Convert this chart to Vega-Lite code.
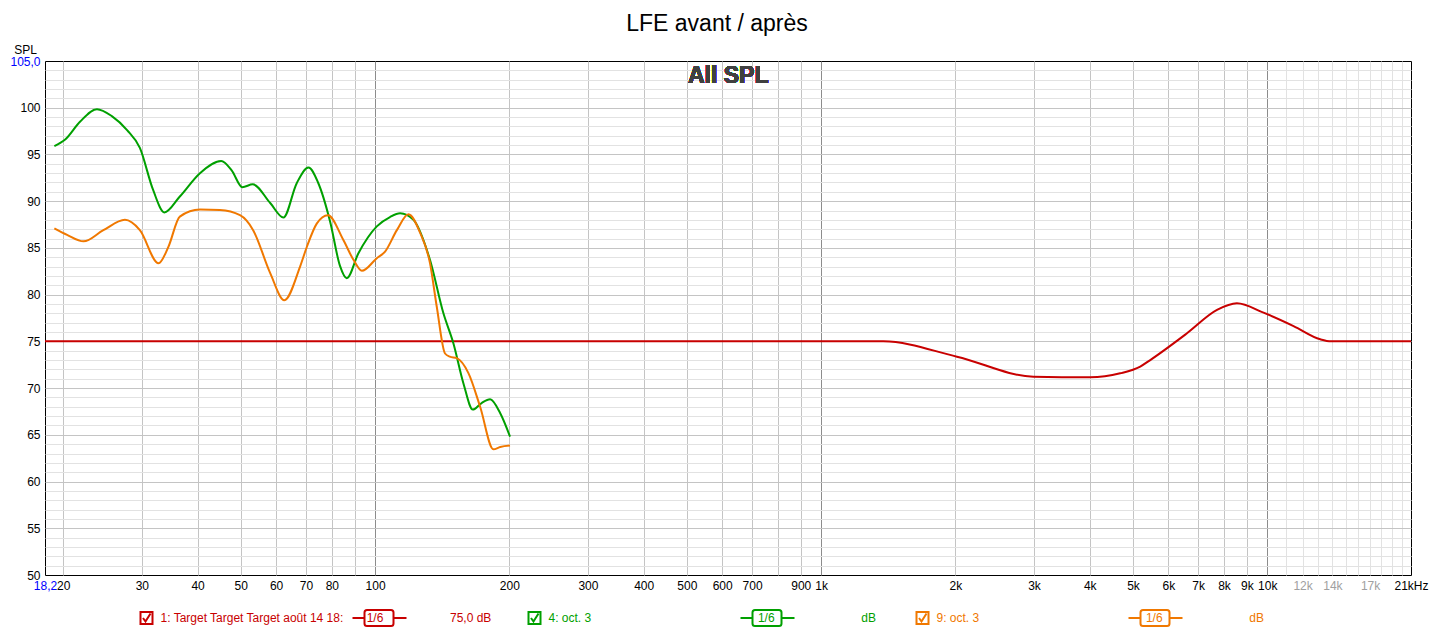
{
  "$schema": "https://vega.github.io/schema/vega-lite/v6.json",
  "width": 1366,
  "height": 514,
  "autosize": {"type": "none"},
  "padding": {"left": 45, "top": 61, "right": 22, "bottom": 57},
  "background": "#ffffff",
  "title": {"text": "LFE avant / après", "font": "Liberation Sans", "fontSize": 23, "fontWeight": "normal", "color": "#000000", "anchor": "middle", "frame": "group", "dx": -11, "offset": -16, "baseline": "bottom"},
  "config": {
    "view": {"stroke": "#000000", "strokeWidth": 1},
    "axis": {"labelFont": "Liberation Sans", "labelFontSize": 12, "labelColor": "#000000", "ticks": false, "domain": false, "labelOverlap": false, "labelFlush": false, "gridWidth": 1, "gridOpacity": 1, "tickCount": 500}
  },
  "data": {"values": [
    {"s": "1: Target Target Target août 14 18:", "f": 18.2, "db": 75},
    {"s": "1: Target Target Target août 14 18:", "f": 1378, "db": 75},
    {"s": "1: Target Target Target août 14 18:", "f": 2015, "db": 73.36},
    {"s": "1: Target Target Target août 14 18:", "f": 2992, "db": 71.22},
    {"s": "1: Target Target Target août 14 18:", "f": 4009, "db": 71.15},
    {"s": "1: Target Target Target août 14 18:", "f": 4681, "db": 71.58},
    {"s": "1: Target Target Target août 14 18:", "f": 5191, "db": 72.3},
    {"s": "1: Target Target Target août 14 18:", "f": 5466, "db": 73.0},
    {"s": "1: Target Target Target août 14 18:", "f": 6607, "db": 75.86},
    {"s": "1: Target Target Target août 14 18:", "f": 7715, "db": 78.36},
    {"s": "1: Target Target Target août 14 18:", "f": 8549, "db": 79.07},
    {"s": "1: Target Target Target août 14 18:", "f": 9810, "db": 78.07},
    {"s": "1: Target Target Target août 14 18:", "f": 11453, "db": 76.64},
    {"s": "1: Target Target Target août 14 18:", "f": 13146, "db": 75.22},
    {"s": "1: Target Target Target août 14 18:", "f": 13900, "db": 75.0},
    {"s": "1: Target Target Target août 14 18:", "f": 21000, "db": 75.0},
    {"s": "4: oct. 3", "f": 19.1, "db": 95.9},
    {"s": "4: oct. 3", "f": 20.2, "db": 96.6},
    {"s": "4: oct. 3", "f": 21.8, "db": 98.5},
    {"s": "4: oct. 3", "f": 23.8, "db": 99.85},
    {"s": "4: oct. 3", "f": 25.7, "db": 99.1},
    {"s": "4: oct. 3", "f": 27.8, "db": 97.6},
    {"s": "4: oct. 3", "f": 29.7, "db": 95.7},
    {"s": "4: oct. 3", "f": 31.8, "db": 91.2},
    {"s": "4: oct. 3", "f": 33.7, "db": 88.8},
    {"s": "4: oct. 3", "f": 36.5, "db": 90.5},
    {"s": "4: oct. 3", "f": 40.5, "db": 93.0},
    {"s": "4: oct. 3", "f": 45.2, "db": 94.3},
    {"s": "4: oct. 3", "f": 47.7, "db": 93.3},
    {"s": "4: oct. 3", "f": 50.4, "db": 91.5},
    {"s": "4: oct. 3", "f": 53.2, "db": 91.8},
    {"s": "4: oct. 3", "f": 58.2, "db": 89.8},
    {"s": "4: oct. 3", "f": 62.3, "db": 88.25},
    {"s": "4: oct. 3", "f": 66.7, "db": 91.9},
    {"s": "4: oct. 3", "f": 70.9, "db": 93.6},
    {"s": "4: oct. 3", "f": 74.5, "db": 92.0},
    {"s": "4: oct. 3", "f": 79.3, "db": 87.8},
    {"s": "4: oct. 3", "f": 83.4, "db": 83.1},
    {"s": "4: oct. 3", "f": 86.4, "db": 81.75},
    {"s": "4: oct. 3", "f": 91.7, "db": 84.4},
    {"s": "4: oct. 3", "f": 100.9, "db": 87.3},
    {"s": "4: oct. 3", "f": 108, "db": 88.3},
    {"s": "4: oct. 3", "f": 113.8, "db": 88.7},
    {"s": "4: oct. 3", "f": 121.9, "db": 88.0},
    {"s": "4: oct. 3", "f": 132.8, "db": 83.7},
    {"s": "4: oct. 3", "f": 142.3, "db": 78.0},
    {"s": "4: oct. 3", "f": 149.8, "db": 74.8},
    {"s": "4: oct. 3", "f": 157.8, "db": 70.5},
    {"s": "4: oct. 3", "f": 165.6, "db": 67.7},
    {"s": "4: oct. 3", "f": 173.3, "db": 68.4},
    {"s": "4: oct. 3", "f": 181.1, "db": 68.8},
    {"s": "4: oct. 3", "f": 190.8, "db": 67.3},
    {"s": "4: oct. 3", "f": 200.7, "db": 64.8},
    {"s": "9: oct. 3", "f": 19.1, "db": 87.1},
    {"s": "9: oct. 3", "f": 20.4, "db": 86.4},
    {"s": "9: oct. 3", "f": 22.2, "db": 85.7},
    {"s": "9: oct. 3", "f": 24.6, "db": 86.9},
    {"s": "9: oct. 3", "f": 27.5, "db": 88.0},
    {"s": "9: oct. 3", "f": 29.7, "db": 86.9},
    {"s": "9: oct. 3", "f": 32.7, "db": 83.35},
    {"s": "9: oct. 3", "f": 34.4, "db": 85.1},
    {"s": "9: oct. 3", "f": 36.5, "db": 88.35},
    {"s": "9: oct. 3", "f": 40.5, "db": 89.1},
    {"s": "9: oct. 3", "f": 44.9, "db": 89.05},
    {"s": "9: oct. 3", "f": 49.8, "db": 88.5},
    {"s": "9: oct. 3", "f": 53.3, "db": 86.9},
    {"s": "9: oct. 3", "f": 58.2, "db": 82.3},
    {"s": "9: oct. 3", "f": 62.6, "db": 79.4},
    {"s": "9: oct. 3", "f": 67.9, "db": 83.0},
    {"s": "9: oct. 3", "f": 70.3, "db": 85.1},
    {"s": "9: oct. 3", "f": 74.0, "db": 87.6},
    {"s": "9: oct. 3", "f": 78.4, "db": 88.5},
    {"s": "9: oct. 3", "f": 84.9, "db": 85.85},
    {"s": "9: oct. 3", "f": 89.5, "db": 83.7},
    {"s": "9: oct. 3", "f": 93.4, "db": 82.55},
    {"s": "9: oct. 3", "f": 100.9, "db": 83.9},
    {"s": "9: oct. 3", "f": 105.3, "db": 84.6},
    {"s": "9: oct. 3", "f": 111.9, "db": 86.9},
    {"s": "9: oct. 3", "f": 118.8, "db": 88.6},
    {"s": "9: oct. 3", "f": 126.2, "db": 86.6},
    {"s": "9: oct. 3", "f": 132.8, "db": 83.35},
    {"s": "9: oct. 3", "f": 137.5, "db": 78.7},
    {"s": "9: oct. 3", "f": 143.5, "db": 73.7},
    {"s": "9: oct. 3", "f": 147.1, "db": 73.36},
    {"s": "9: oct. 3", "f": 152.5, "db": 73.2},
    {"s": "9: oct. 3", "f": 161.9, "db": 71.6},
    {"s": "9: oct. 3", "f": 172, "db": 68.0},
    {"s": "9: oct. 3", "f": 184.2, "db": 63.45},
    {"s": "9: oct. 3", "f": 190.8, "db": 63.7},
    {"s": "9: oct. 3", "f": 200.7, "db": 63.85}
  ]},
  "layer": [
    {
      "mark": {"type": "line", "interpolate": "monotone", "strokeWidth": 2},
      "encoding": {
        "x": {"field": "f", "type": "quantitative", "scale": {"type": "log", "domain": [18.2, 21000], "nice": false},
          "axis": {"title": null, "grid": true, "labelPadding": 5, "labelBaseline": "top", "tickCount": 500,
            "values": [18.2, 20, 30, 40, 50, 60, 70, 80, 90, 100, 200, 300, 400, 500, 600, 700, 800, 900, 1000, 2000, 3000, 4000, 5000, 6000, 7000, 8000, 9000, 10000, 11000, 12000, 13000, 14000, 15000, 16000, 17000, 18000, 19000, 20000, 21000],
            "labelExpr": "datum.value == 18.2 ? '18,2' : datum.value == 21000 ? '21kHz' : indexof([20,30,40,50,60,70,80,100,200,300,400,500,600,700,900], datum.value) >= 0 ? datum.value + '' : indexof([1000,2000,3000,4000,5000,6000,7000,8000,9000,10000,12000,14000,17000], datum.value) >= 0 ? (datum.value / 1000) + 'k' : ''",
            "gridColor": {"condition": [
              {"test": "datum.value == 18.2 || datum.value == 21000", "value": "transparent"},
              {"test": "datum.value == 100 || datum.value == 1000 || datum.value == 10000", "value": "#8c8c8c"},
              {"test": "datum.value > 10000", "value": "#e2e2e2"}
            ], "value": "#c4c4c4"},
            "labelColor": {"condition": [
              {"test": "datum.value == 18.2", "value": "#0000ff"},
              {"test": "datum.value == 12000 || datum.value == 14000 || datum.value == 17000", "value": "#a0a0a0"}
            ], "value": "#000000"}
          }
        },
        "y": {"field": "db", "type": "quantitative", "scale": {"domain": [50, 105], "nice": false, "zero": false},
          "axis": {"title": "SPL", "titleAngle": 0, "titleFont": "Liberation Sans", "titleFontSize": 12, "titleFontWeight": "normal", "titleColor": "#000000", "titleAlign": "center", "titleBaseline": "alphabetic", "titleX": -20, "titleY": -8, "grid": true, "labelPadding": 5, "tickCount": 500,
            "values": [50,51,52,53,54,55,56,57,58,59,60,61,62,63,64,65,66,67,68,69,70,71,72,73,74,75,76,77,78,79,80,81,82,83,84,85,86,87,88,89,90,91,92,93,94,95,96,97,98,99,100,101,102,103,104,105],
            "labelExpr": "datum.value == 105 ? '105,0' : (datum.value % 5 == 0 ? datum.value + '' : '')",
            "gridColor": {"condition": [
              {"test": "datum.value == 50 || datum.value == 105", "value": "transparent"},
              {"test": "datum.value % 5 == 0", "value": "#c4c4c4"}
            ], "value": "#e2e2e2"},
            "labelColor": {"condition": {"test": "datum.value == 105", "value": "#0000ff"}, "value": "#000000"}
          }
        },
        "color": {"field": "s", "type": "nominal",
          "scale": {"domain": ["1: Target Target Target août 14 18:", "4: oct. 3", "9: oct. 3"], "range": ["#c80000", "#00a000", "#f07800"]},
          "legend": {"title": null, "orient": "none", "legendX": 95.5, "legendY": 551, "direction": "horizontal", "columns": 3, "gridAlign": "all", "columnPadding": 32, "padding": 0,
            "symbolType": "M-1.2,-1.2H1.2V1.2H-1.2ZM-0.7,0L-0.2,0.7L0.8,-0.9M41.2,0H43.6M49.4,0H52M44.1,-1.6H48.9Q49.4,-1.6 49.4,-1.1V1.1Q49.4,1.6 48.9,1.6H44.1Q43.6,1.6 43.6,1.1V-1.1Q43.6,-1.6 44.1,-1.6Z",
            "symbolSize": 100, "symbolStrokeWidth": 2, "symbolOffset": 0, "labelOffset": 8,
            "labelFont": "Liberation Sans", "labelFontSize": 12, "labelLimit": 600,
            "labelExpr": "datum.value == '4: oct. 3' || datum.value == '9: oct. 3' ? pad(datum.label, 59, '\u00a0') + '1/6' + pad('', 26, '\u00a0') + 'dB' : pad(datum.label, 42, '\u00a0') + '1/6' + pad('', 20, '\u00a0') + '75,0 dB'",
            "encode": {
              "labels": {"update": {"fill": {"scale": "color", "field": "value"}}},
              "symbols": {"update": {"fill": {"value": "#ffffff"}, "stroke": {"scale": "color", "field": "value"}, "opacity": {"value": 1}, "strokeWidth": {"value": 2}}}
            }
          }
        }
      }
    },
    {
      "mark": {"type": "text", "text": "All SPL", "font": "Liberation Sans", "fontSize": 23, "fontWeight": "bold", "fill": "#404040", "align": "center", "baseline": "middle"},
      "encoding": {"x": {"datum": 619}, "y": {"datum": 103.4}}
    }
  ]
}
